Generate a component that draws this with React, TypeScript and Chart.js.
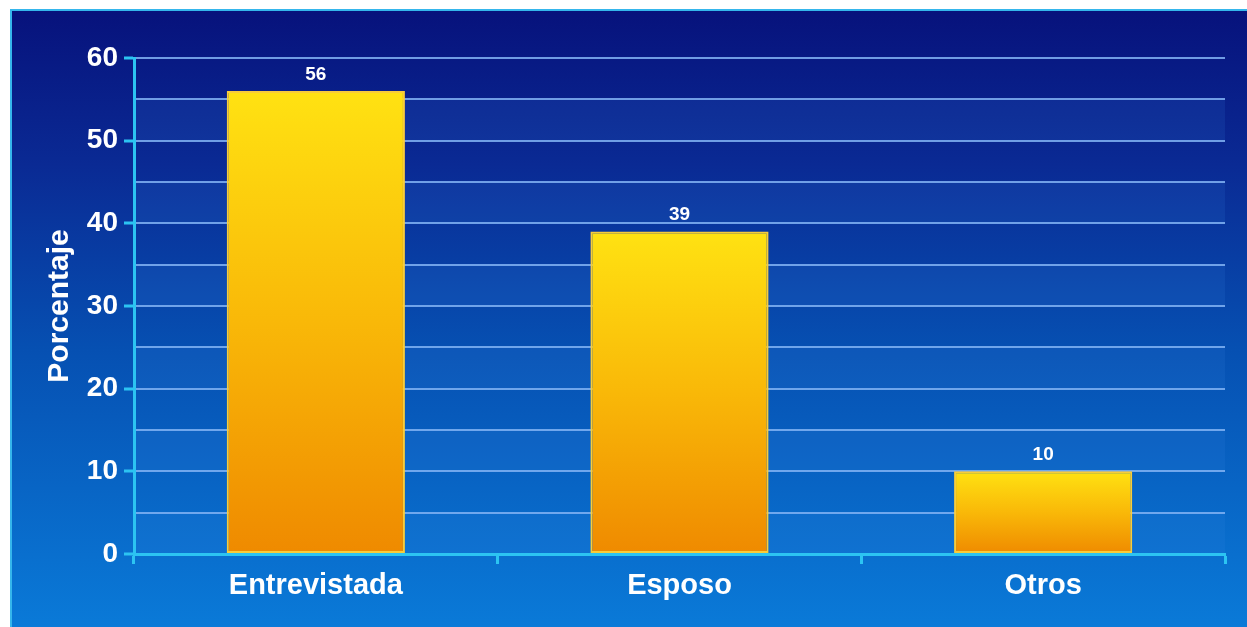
import React, { useEffect, useRef } from "react";
import { Chart, registerables } from "chart.js";

Chart.register(...registerables);

const categories: string[] = ["Entrevistada", "Esposo", "Otros"];
const values: number[] = [56, 39, 10];
const yAxisTitle = "Porcentaje";
const yMin = 0;
const yMax = 60;
const yStep = 5;
const yLabelStep = 10;

const FONT = "'Liberation Sans', Arial, sans-serif";

const bandsPlugin = {
  id: "bands",
  beforeDraw(chart: any) {
    const { ctx, chartArea } = chart;
    const y = chart.scales.y;
    if (!chartArea || !y) return;
    ctx.save();
    ctx.fillStyle = "rgba(60,140,230,0.13)";
    for (let v = yMin; v < yMax; v += yLabelStep) {
      const top = y.getPixelForValue(v + yStep);
      const bottom = y.getPixelForValue(v);
      ctx.fillRect(chartArea.left, top, chartArea.right - chartArea.left, bottom - top);
    }
    ctx.restore();
  },
};

const valueLabelPlugin = {
  id: "valueLabels",
  afterDatasetsDraw(chart: any) {
    const { ctx } = chart;
    const meta = chart.getDatasetMeta(0);
    ctx.save();
    ctx.fillStyle = "#ffffff";
    ctx.font = `bold 19px ${FONT}`;
    ctx.textAlign = "center";
    ctx.textBaseline = "bottom";
    meta.data.forEach((bar: any, i: number) => {
      ctx.fillText(String(values[i]), bar.x, bar.y - 7);
    });
    ctx.restore();
  },
};

export default function App() {
  const canvasRef = useRef<HTMLCanvasElement | null>(null);

  useEffect(() => {
    document.body.style.margin = "0";
    const canvas = canvasRef.current;
    if (!canvas) return;
    const chart = new Chart(canvas, {
      type: "bar",
      data: {
        labels: categories,
        datasets: [
          {
            data: values,
            backgroundColor: (c: any) => {
              const ch = c.chart;
              if (!ch.chartArea || c.type !== "data") return "#f5b000";
              const ys = ch.scales.y;
              const top = ys.getPixelForValue(c.raw);
              const bottom = ys.getPixelForValue(0);
              const g = ch.ctx.createLinearGradient(0, top, 0, bottom);
              g.addColorStop(0, "#ffe212");
              g.addColorStop(0.5, "#f9b808");
              g.addColorStop(1, "#ef8a00");
              return g;
            },
            borderColor: "#f8cc3a",
            borderWidth: 2,
            borderSkipped: false,
            categoryPercentage: 1,
            barPercentage: 0.49,
          },
        ],
      },
      options: {
        animation: false,
        responsive: false,
        maintainAspectRatio: false,
        layout: { padding: { top: 49, right: 22, bottom: 0, left: 0 } },
        plugins: {
          legend: { display: false },
          tooltip: { enabled: false },
        },
        scales: {
          x: {
            offset: true,
            afterFit: (s: any) => {
              s.height = 73;
            },
            border: { display: true, color: "#2cc4f2", width: 3 },
            grid: {
              display: true,
              offset: true,
              drawOnChartArea: false,
              drawTicks: true,
              tickLength: 10,
              tickColor: "#2cc4f2",
              tickWidth: 3,
              color: "#2cc4f2",
            },
            ticks: {
              color: "#ffffff",
              font: { family: FONT, size: 29, weight: "bold" },
              padding: 5,
            },
          },
          y: {
            min: yMin,
            max: yMax,
            afterFit: (s: any) => {
              s.width = 124;
            },
            border: { display: true, color: "#2cc4f2", width: 3 },
            grid: {
              color: (c: any) => (c.tick && c.tick.value === 0 ? "transparent" : "rgba(130,180,245,0.85)"),
              lineWidth: 2,
              drawTicks: true,
              tickLength: 10,
              tickWidth: 3,
              tickColor: (c: any) =>
                c.tick && c.tick.value % yLabelStep === 0 ? "#2cc4f2" : "transparent",
            },
            ticks: {
              stepSize: yStep,
              autoSkip: false,
              color: "#ffffff",
              font: { family: FONT, size: 28, weight: "bold" },
              padding: 6,
              callback: (v: any) => (Number(v) % yLabelStep === 0 ? String(v) : ""),
            },
            title: {
              display: true,
              text: yAxisTitle,
              color: "#ffffff",
              font: { family: FONT, size: 30, weight: "bold" },
              padding: { top: 32, bottom: 0 },
            },
          },
        },
      },
      plugins: [bandsPlugin, valueLabelPlugin],
    } as any);
    return () => chart.destroy();
  }, []);

  return (
    <div style={{ position: "relative", width: 1247, height: 627, background: "#ffffff", overflow: "hidden" }}>
      <div
        style={{
          position: "absolute",
          left: 10,
          top: 9,
          width: 1237,
          height: 618,
          boxSizing: "border-box",
          borderTop: "2px solid #35b6ec",
          borderLeft: "2px solid #35b6ec",
          background: "linear-gradient(to bottom, #07127c 0%, #0a2a94 25%, #0650b2 55%, #0a7ad8 100%)",
        }}
      />
      <canvas
        ref={canvasRef}
        width={1237}
        height={618}
        style={{ position: "absolute", left: 10, top: 9, width: 1237, height: 618 }}
      />
    </div>
  );
}
